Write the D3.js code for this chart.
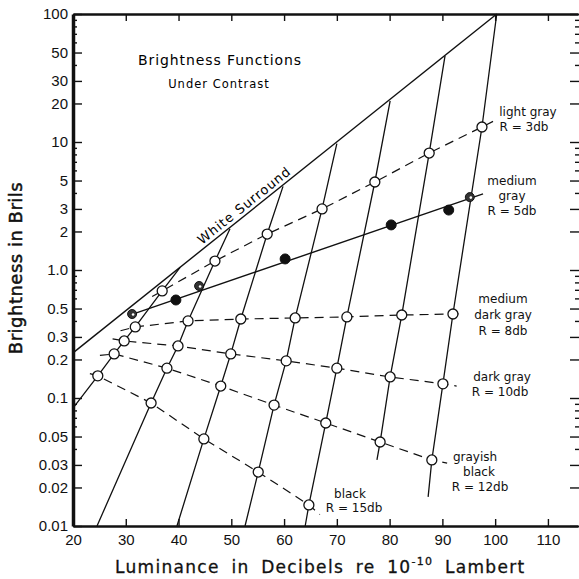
<!DOCTYPE html>
<html>
<head>
<meta charset="utf-8">
<script src="https://cdn.jsdelivr.net/npm/d3@7"></script>
<style>
  body { margin: 0; background: #fff; }
  svg { display: block; font-family: "DejaVu Sans", sans-serif; }
  .tick text { font-size: 15px; fill: #111; }
  .tick line { stroke: #111; stroke-width: 1.4; }
</style>
</head>
<body>
<div id="chart"></div>
<script>
// luminance in dB (x), brightness in brils (y)

const whiteSurroundX = [20, 100.3];
const whiteSurroundY = [0.225, 100];

// reflectance curves: circles, plus where the dashed line starts / stops
const lightGrayX = [36.9, 46.9, 56.8, 67.2, 77.2, 87.5, 97.5];
const lightGrayY = [0.686, 1.175, 1.91, 3.0, 4.87, 8.2, 13.1];
const lightGrayEnds = [[35.0, 0.62], [99.6, 14.5]];

const medDarkX = [31.8, 41.8, 51.8, 62.1, 71.9, 82.3, 92.0];
const medDarkY = [0.359, 0.400, 0.414, 0.422, 0.430, 0.445, 0.453];
const medDarkEnds = [[29.0, 0.335], [94.2, 0.455]];

const darkGrayX = [29.7, 39.9, 49.9, 60.4, 70.0, 80.1, 90.1];
const darkGrayY = [0.279, 0.255, 0.221, 0.195, 0.171, 0.146, 0.129];
const darkGrayEnds = [[27.5, 0.29], [92.7, 0.124]];

const grayishBlackX = [27.8, 37.8, 48.0, 58.1, 67.9, 78.2, 88.0];
const grayishBlackY = [0.221, 0.171, 0.124, 0.088, 0.0638, 0.0453, 0.0328];
const grayishBlackEnds = [[25.1, 0.215], [90.9, 0.031]];

const blackX = [24.7, 34.8, 44.8, 55.1, 64.7];
const blackY = [0.149, 0.0914, 0.0479, 0.0264, 0.0146];
const blackEnds = [[23.2, 0.155], [66.8, 0.0123]];

// medium gray (solid line, filled points)
const medGrayLine = [[30.5, 0.44], [97.7, 3.93]];
const medGrayX = [31.2, 39.5, 43.9, 60.2, 80.3, 91.2, 95.2];
const medGrayY = [0.453, 0.583, 0.75, 1.22, 2.25, 2.94, 3.71];
const medGrayKind = ["x", "f", "x", "f", "f", "f", "x"];

// steep lines: lower end and end on the white surround line
const colBottomX = [20, 24.55, 39.7, 52.6, 64.0, 77.6, 87.3];
const colBottomY = [0.0835, 0.01, 0.01, 0.01, 0.01, 0.0328, 0.0169];
const colTopX = [40.3, 49.75, 59.8, 70.0, 80.1, 90.5, 100.3];
const colTopY = [1.05, 2.1, 4.5, 9.7, 21, 47, 100];

const yTicks = [100, 50, 30, 20, 10, 5, 3, 2, 1, 0.5, 0.3, 0.2, 0.1, 0.05, 0.03, 0.02, 0.01];
const yTickLabels = ["100", "50", "30", "20", "10", "5", "3", "2", "1.0", "0.5", "0.3", "0.2", "0.1", "0.05", "0.03", "0.02", "0.01"];
const yMinor = [0.04, 0.06, 0.07, 0.08, 0.09, 0.4, 0.6, 0.7, 0.8, 0.9, 4, 6, 7, 8, 9, 40, 60, 70, 80, 90];
const xTicks = [20, 30, 40, 50, 60, 70, 80, 90, 100, 110];

let w = 579, h = 579;
let margin = {left: 73, top: 14, right: 1, bottom: 53};

let svg = d3.select("#chart").append("svg")
    .attr("width", w)
    .attr("height", h);

let xScale = d3.scaleLinear()
    .domain([20, 115.7])
    .range([margin.left, w - margin.right]);
let yScale = d3.scaleLog()
    .domain([0.01, 100])
    .range([h - margin.bottom, margin.top]);

let line = d3.line()
    .x(d => xScale(d[0]))
    .y(d => yScale(d[1]));

const zip = (xs, ys) => xs.map((v, i) => [v, ys[i]]);

let curves = [
    {x: lightGrayX, y: lightGrayY, ends: lightGrayEnds},
    {x: medDarkX, y: medDarkY, ends: medDarkEnds},
    {x: darkGrayX, y: darkGrayY, ends: darkGrayEnds},
    {x: grayishBlackX, y: grayishBlackY, ends: grayishBlackEnds},
    {x: blackX, y: blackY, ends: blackEnds}
];

// columns go through the i-th circle of each curve, bottom to top
let colOrder = [curves[4], curves[3], curves[2], curves[1], curves[0]];
let columns = colBottomX.map((bx, i) => {
    let pts = [[bx, colBottomY[i]]];
    colOrder.forEach(c => {
        if (i < c.x.length) pts.push([c.x[i], c.y[i]]);
    });
    pts.push([colTopX[i], colTopY[i]]);
    return pts;
});

let plot = svg.append("g");

plot.selectAll(".col")
    .data(columns)
    .enter()
    .append("path")
    .attr("class", "col")
    .attr("d", line)
    .attr("fill", "none")
    .attr("stroke", "#111")
    .attr("stroke-width", 1.3);

plot.selectAll(".refl")
    .data(curves)
    .enter()
    .append("path")
    .attr("class", "refl")
    .attr("d", c => line([c.ends[0]].concat(zip(c.x, c.y), [c.ends[1]])))
    .attr("fill", "none")
    .attr("stroke", "#111")
    .attr("stroke-width", 1.2)
    .attr("stroke-dasharray", "9,6");

plot.append("path")
    .attr("d", line(zip(whiteSurroundX, whiteSurroundY)))
    .attr("fill", "none")
    .attr("stroke", "#111")
    .attr("stroke-width", 1.4);

plot.append("path")
    .attr("d", line(medGrayLine))
    .attr("fill", "none")
    .attr("stroke", "#111")
    .attr("stroke-width", 1.4);

let allCircles = [];
curves.forEach(c => { allCircles = allCircles.concat(zip(c.x, c.y)); });

plot.selectAll(".open")
    .data(allCircles)
    .enter()
    .append("circle")
    .attr("class", "open")
    .attr("cx", d => xScale(d[0]))
    .attr("cy", d => yScale(d[1]))
    .attr("r", 5)
    .attr("fill", "#fff")
    .attr("stroke", "#111")
    .attr("stroke-width", 1.3);

let mg = plot.selectAll(".mg")
    .data(zip(medGrayX, medGrayY))
    .enter()
    .append("g")
    .attr("class", "mg")
    .attr("transform", d => "translate(" + xScale(d[0]) + "," + yScale(d[1]) + ")");

mg.append("circle")
    .attr("r", (d, i) => medGrayKind[i] == "f" ? 5 : 4.5)
    .attr("fill", (d, i) => medGrayKind[i] == "f" ? "#111" : "#333")
    .attr("stroke", "#111")
    .attr("stroke-width", 1);

mg.filter((d, i) => medGrayKind[i] == "x")
    .append("circle")
    .attr("cx", 1)
    .attr("cy", 0.5)
    .attr("r", 1.3)
    .attr("fill", "#fff");

// axes
let yAxis = d3.axisLeft(yScale)
    .tickValues(yTicks)
    .tickFormat((d, i) => yTickLabels[i])
    .tickSize(-9)
    .tickSizeOuter(0)
    .tickPadding(5);

svg.append("g")
    .attr("transform", "translate(" + margin.left + ",0)")
    .call(yAxis)
    .call(g => g.select(".domain").attr("stroke-width", 3.5).attr("stroke", "#111"));

svg.append("g")
    .attr("transform", "translate(" + margin.left + ",0)")
    .call(d3.axisLeft(yScale).tickValues(yMinor).tickFormat("").tickSize(-4))
    .call(g => g.select(".domain").remove());

// right side: only tick marks
svg.append("g")
    .attr("transform", "translate(" + w + ",0)")
    .call(d3.axisRight(yScale).tickValues(yTicks).tickFormat("").tickSize(-9))
    .call(g => g.select(".domain").remove());
svg.append("g")
    .attr("transform", "translate(" + w + ",0)")
    .call(d3.axisRight(yScale).tickValues(yMinor).tickFormat("").tickSize(-4))
    .call(g => g.select(".domain").remove());

svg.append("g")
    .attr("transform", "translate(0," + (h - margin.bottom) + ")")
    .call(d3.axisBottom(xScale).tickValues(xTicks).tickSize(-7).tickSizeOuter(0).tickPadding(8))
    .call(g => g.select(".domain").attr("stroke-width", 2.5).attr("stroke", "#111"));

svg.append("g")
    .attr("transform", "translate(0," + margin.top + ")")
    .call(d3.axisTop(xScale).tickValues(xTicks.slice(1)).tickFormat("").tickSize(-7).tickSizeOuter(0))
    .call(g => g.select(".domain").attr("stroke-width", 2.5).attr("stroke", "#111"));

// titles and labels
svg.append("text")
    .text("Brightness Functions")
    .attr("x", 220).attr("y", 65)
    .attr("text-anchor", "middle")
    .attr("font-size", 14)
    .attr("letter-spacing", 0.9);

svg.append("text")
    .text("Under Contrast")
    .attr("x", 219).attr("y", 88)
    .attr("text-anchor", "middle")
    .attr("font-size", 11.5)
    .attr("letter-spacing", 1);

svg.append("text")
    .text("White Surround")
    .attr("text-anchor", "middle")
    .attr("font-size", 13)
    .attr("letter-spacing", 1)
    .attr("transform", "translate(247,209) rotate(-38.6)");

let labels = [
    ["light gray", 528, 116], ["R = 3db", 524, 131],
    ["medium", 512, 185], ["gray", 512, 200], ["R = 5db", 512, 215],
    ["medium", 503, 303], ["dark gray", 503, 319], ["R = 8db", 503, 335],
    ["dark gray", 502, 381], ["R = 10db", 500, 396],
    ["grayish", 475, 461], ["black", 479, 476], ["R = 12db", 480, 491],
    ["black", 350, 498], ["R = 15db", 354, 512]
];

svg.selectAll(".lbl")
    .data(labels)
    .enter()
    .append("text")
    .attr("class", "lbl")
    .text(d => d[0])
    .attr("x", d => d[1])
    .attr("y", d => d[2])
    .attr("text-anchor", "middle")
    .attr("font-size", 12)
    .attr("fill", "#111");

svg.append("text")
    .text("Brightness in Brils")
    .attr("text-anchor", "middle")
    .attr("font-size", 18)
    .attr("fill", "#111")
    .attr("stroke", "#111")
    .attr("stroke-width", 0.5)
    .attr("letter-spacing", 0.5)
    .attr("transform", "translate(22,268) rotate(-90)");

let xt = svg.append("text")
    .attr("x", 115).attr("y", 573)
    .attr("font-size", 17)
    .attr("letter-spacing", 1.3)
    .attr("word-spacing", 5)
    .attr("fill", "#111")
    .attr("stroke", "#111")
    .attr("stroke-width", 0.3);
xt.append("tspan").text("Luminance in Decibels re 10");
xt.append("tspan").text("-10").attr("font-size", 11).attr("dy", -8);
xt.append("tspan").text(" Lambert").attr("dy", 8);
</script>
</body>
</html>
